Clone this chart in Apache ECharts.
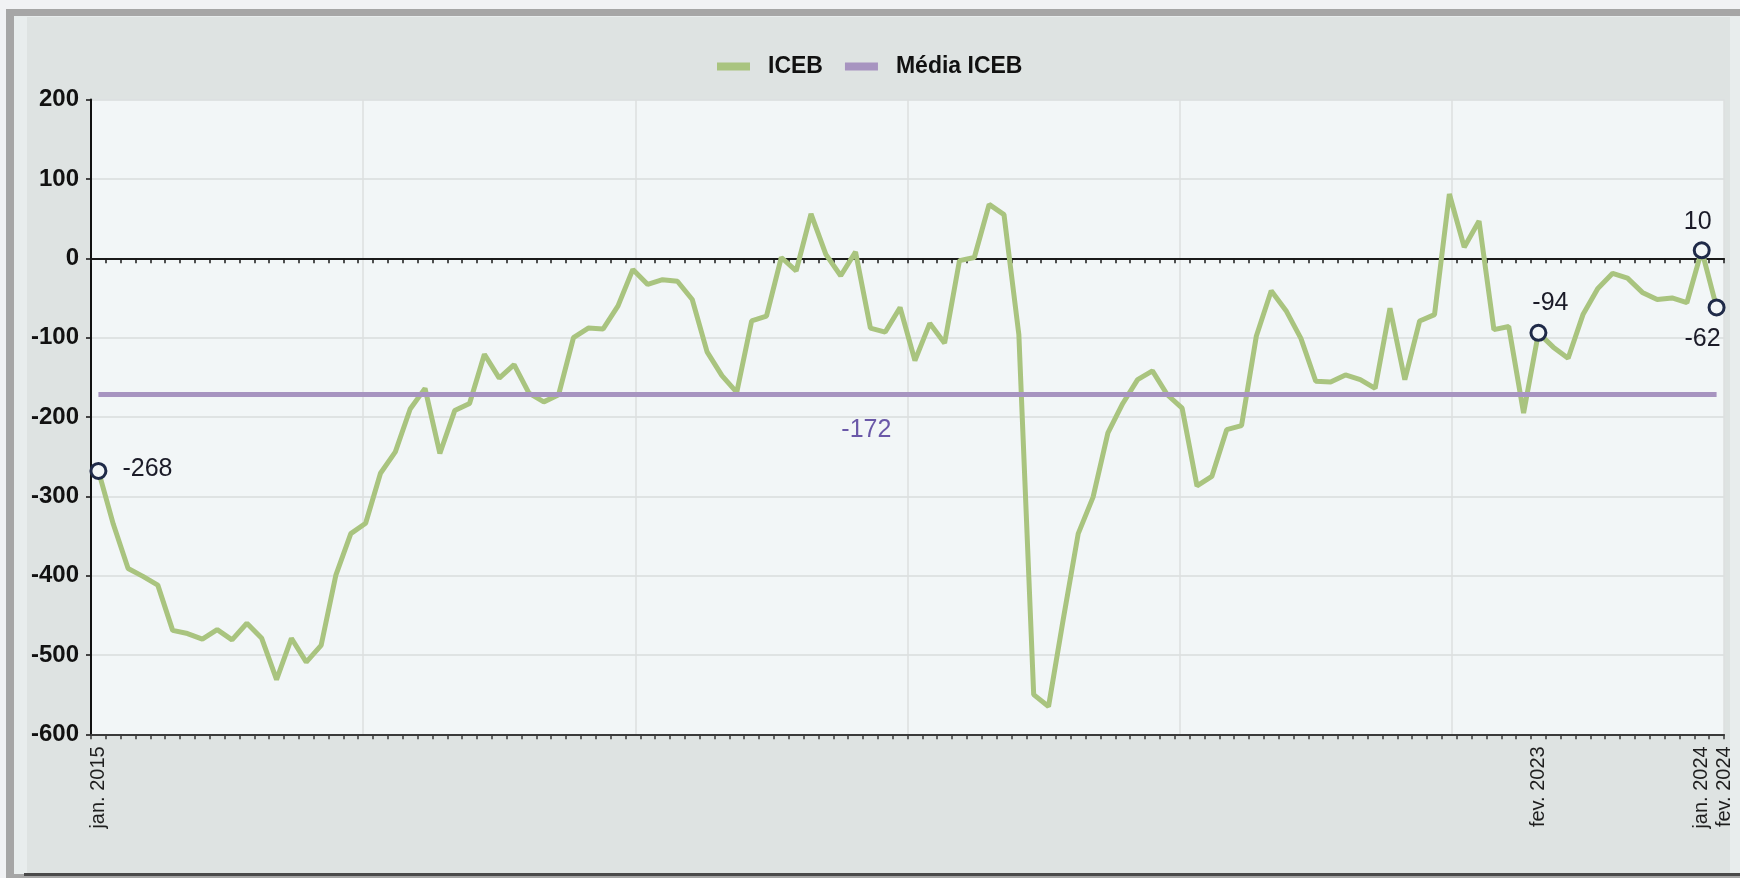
<!DOCTYPE html>
<html>
<head>
<meta charset="utf-8">
<style>
html,body{margin:0;padding:0;background:#f1f2f4;}
#chart{width:1740px;height:878px;}
</style>
<script src="https://cdn.jsdelivr.net/npm/echarts@6/dist/echarts.min.js"></script>
</head>
<body>
<div id="chart"></div>
<script>
// ---- data ----
const monthNames = ['jan.','fev.','mar.','abr.','mai.','jun.','jul.','ago.','set.','out.','nov.','dez.'];
const startYear = 2015;
const monthCount = 110; // jan. 2015 .. fev. 2024
const categories = [];
for (let i = 0; i < monthCount; i++) {
  categories.push(monthNames[i % 12] + ' ' + (startYear + Math.floor(i / 12)));
}
const icebValues = [
  -268,-335,-391,-401,-412,-469,-473,-480,-468,-481,-460,-479,
  -531,-479,-509,-488,-399,-347,-334,-271,-244,-190,-164,-246,
  -192,-183,-121,-151,-134,-170,-181,-172,-100,-88,-89,-60,
  -14,-33,-27,-29,-52,-118,-148,-169,-79,-73,1,-16,
  56,5,-22,8,-88,-93,-62,-129,-82,-107,-3,1,
  68,55,-96,-550,-565,-454,-347,-301,-220,-183,-153,-142,
  -172,-189,-287,-275,-216,-211,-98,-41,-66,-101,-155,-156,
  -147,-153,-164,-63,-153,-79,-71,81,14,47,-90,-86,
  -195,-94,-112,-126,-71,-38,-19,-25,-43,-52,-50,-56,
  10,-62
];
const mediaICEB = -172;
const labeledPoints = [0, 97, 108, 109];
const xLabelIndices = [0, 97, 108, 109];
const yTicks = {min: -600, max: 200, interval: 100};

// ---- styles ----
const FONT = "'Liberation Sans',Arial,sans-serif";
const labelStyles = {
  0:   {position: 'right',  offset: [10, -2]},
  97:  {position: 'top',    offset: [12, -3]},
  108: {position: 'top',    offset: [-4, -2]},
  109: {position: 'bottom', offset: [-14, 5]}
};
const lastLabelIdx = xLabelIndices[xLabelIndices.length - 1];
const mainLabelIdx = xLabelIndices.slice(0, -1);

const icebData = icebValues.map((v, i) => {
  if (!labeledPoints.includes(i)) return v;
  const ls = labelStyles[i];
  return {
    value: v,
    symbol: 'circle',
    symbolSize: 15,
    itemStyle: {color: '#f2f6f7', borderColor: '#1f2a48', borderWidth: 3},
    label: {
      show: true,
      position: ls.position,
      offset: ls.offset,
      formatter: String(v),
      fontFamily: FONT,
      fontSize: 25,
      color: '#1b1b28'
    }
  };
});

const xLabelStyle = {fontFamily: FONT, fontSize: 20, color: '#1e1e1e'};

const chart = echarts.init(document.getElementById('chart'), null, {renderer: 'canvas'});
chart.setOption({
  backgroundColor: '#f1f2f4',
  animation: false,
  graphic: [
    {type: 'rect', z: -10, shape: {x: 6, y: 9, width: 1734, height: 869}, style: {fill: '#a6a6a6'}},
    {type: 'rect', z: -9, shape: {x: 14, y: 16, width: 1726, height: 858}, style: {fill: '#e8eded'}},
    {type: 'rect', z: -8, shape: {x: 27, y: 17, width: 1703, height: 857}, style: {fill: '#dee3e2'}},
    {type: 'rect', z: -7, shape: {x: 24, y: 873, width: 1716, height: 3}, style: {fill: '#4a4a4a'}}
  ],
  legend: {
    left: 712,
    top: 50,
    icon: 'rect',
    itemWidth: 33,
    itemHeight: 8,
    itemGap: 22,
    data: ['ICEB', 'Média ICEB'],
    textStyle: {fontFamily: FONT, fontWeight: 'bold', fontSize: 23, color: '#111', padding: [0, 0, 0, 13]}
  },
  grid: [
    {
      left: 91, right: 16, top: 99.6, bottom: 143.7,
      show: true, backgroundColor: '#f2f6f7', borderWidth: 0
    },
    {
      left: 99, right: 8, top: 99.6, bottom: 143.7, show: false
    }
  ],
  xAxis: [
    {
      type: 'category', data: categories, boundaryGap: true, gridIndex: 0,
      axisLine: {show: true, onZero: true, lineStyle: {color: '#1a1a1a', width: 2}},
      axisTick: {show: true, interval: 0, length: 5, lineStyle: {color: '#1a1a1a', width: 1.5}},
      axisLabel: {show: false},
      splitLine: {show: false}
    },
    {
      type: 'category', data: categories, boundaryGap: true, position: 'bottom', gridIndex: 0,
      axisLine: {show: true, onZero: false, lineStyle: {color: '#3a3a3a', width: 2}},
      axisTick: {show: true, interval: 0, length: 5, lineStyle: {color: '#3a3a3a', width: 1.5}},
      axisLabel: Object.assign({
        show: true, rotate: 90, margin: 12,
        interval: (idx) => mainLabelIdx.includes(idx)
      }, xLabelStyle),
      splitLine: {show: false}
    },
    {
      type: 'value', min: 0, max: 6, interval: 1, position: 'bottom', gridIndex: 0,
      axisLine: {show: false}, axisTick: {show: false}, axisLabel: {show: false},
      splitLine: {show: true, lineStyle: {color: '#dcdfdf', width: 1.5}}
    },
    {
      type: 'category', data: categories, boundaryGap: true, position: 'bottom', gridIndex: 1,
      axisLine: {show: false, onZero: false}, axisTick: {show: false},
      axisLabel: Object.assign({
        show: true, rotate: 90, margin: 12,
        interval: (idx) => idx === lastLabelIdx
      }, xLabelStyle),
      splitLine: {show: false}
    }
  ],
  yAxis: [
    {
      type: 'value', min: yTicks.min, max: yTicks.max, interval: yTicks.interval, gridIndex: 0,
      axisLine: {show: true, onZero: false, lineStyle: {color: '#111', width: 2}},
      axisTick: {show: true, length: 5, lineStyle: {color: '#111', width: 1.5}},
      axisLabel: {fontFamily: FONT, fontWeight: 'bold', fontSize: 24, color: '#111', margin: 12},
      splitLine: {show: true, lineStyle: {color: '#d9dcdc', width: 1.5}}
    },
    {
      type: 'value', min: yTicks.min, max: yTicks.max, interval: yTicks.interval, gridIndex: 1,
      show: false
    }
  ],
  series: [
    {
      name: 'Média ICEB', type: 'line', data: [], color: '#a794c0',
      xAxisIndex: 0, yAxisIndex: 0,
      markLine: {
        silent: true, symbol: 'none', animation: false,
        lineStyle: {color: '#a794c0', width: 5, type: 'solid'},
        label: {show: false},
        data: [[{coord: [categories[0], mediaICEB]}, {coord: [categories[monthCount - 1], mediaICEB]}]]
      },
      markPoint: {
        symbol: 'circle', symbolSize: 1, silent: true,
        itemStyle: {color: 'rgba(0,0,0,0)'},
        label: {show: true, position: 'inside', offset: [-4, 35], formatter: String(mediaICEB),
                fontFamily: FONT, fontSize: 25, color: '#6a58a8'},
        data: [{coord: [categories[52], mediaICEB], value: mediaICEB}]
      }
    },
    {
      name: 'ICEB', type: 'line', xAxisIndex: 0, yAxisIndex: 0, data: icebData,
      color: '#a9c47f',
      symbol: 'none', showSymbol: true, showAllSymbol: true,
      lineStyle: {color: '#a9c47f', width: 5},
      z: 3
    }
  ]
});
</script>
</body>
</html>
